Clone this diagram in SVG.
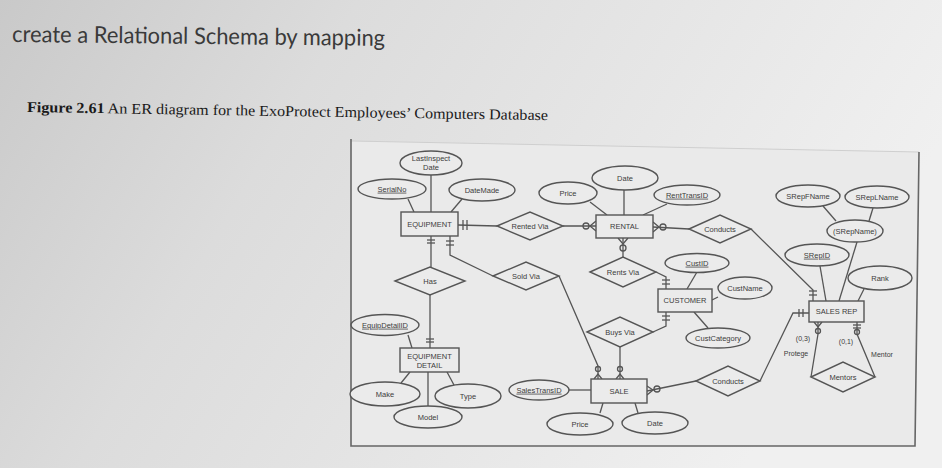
<svg xmlns="http://www.w3.org/2000/svg" width="942" height="468" viewBox="0 0 942 468">
<defs>
<linearGradient id="bg" x1="0" y1="0" x2="1" y2="0.3">
<stop offset="0" stop-color="#c9c9c9"/>
<stop offset="0.35" stop-color="#dcdcdc"/>
<stop offset="1" stop-color="#f0f0f0"/>
</linearGradient>
<style>
.t{font-family:"Liberation Sans",Arial,sans-serif;font-size:7.5px;fill:#3c3c3c;text-anchor:middle}
.u{text-decoration:underline}
.s{fill:#ebebeb;stroke:#555;stroke-width:1.4}
.c{fill:none;stroke:#555;stroke-width:1.3}
.lbl{font-family:"Liberation Sans",Arial,sans-serif;font-size:7px;fill:#3c3c3c;text-anchor:middle}
</style>
</defs>
<rect x="0" y="0" width="942" height="468" fill="url(#bg)"/>
<text x="12" y="42" font-family="Lato,'Open Sans',sans-serif" font-size="23" fill="#3a3a3a" textLength="373" lengthAdjust="spacingAndGlyphs" transform="rotate(0.6 12 42)">create a Relational Schema by mapping</text>
<text x="27" y="112" font-family="'Liberation Serif','Times New Roman',serif" font-size="15" fill="#1a1a1a" textLength="521" lengthAdjust="spacingAndGlyphs" transform="rotate(0.9 27 112)"><tspan font-weight="bold">Figure 2.61</tspan> An ER diagram for the ExoProtect Employees’ Computers Database</text>
<g id="frame">
<polygon points="351,141 919,152 915,446 351,446" fill="#eaeaea" stroke="none"/>
<line x1="351" y1="141" x2="919" y2="152" stroke="#cfcfcf" stroke-width="1"/>
<polyline points="919,152 915,446 351,446 351,139" fill="none" stroke="#666" stroke-width="1.6"/>
</g>

<g id="connectors" class="c">
<line x1="408" y1="199" x2="414" y2="212"/>
<line x1="431" y1="175" x2="431" y2="212"/>
<line x1="462" y1="199" x2="451" y2="212"/>
<line x1="458" y1="225" x2="497" y2="226"/>
<line x1="463" y1="220" x2="463" y2="230"/><line x1="467" y1="220" x2="467" y2="230"/>
<line x1="563" y1="226" x2="596" y2="226"/>
<circle cx="586" cy="226" r="3"/>
<polyline points="596,221 590,226 596,231"/>
<line x1="653" y1="227" x2="689" y2="229"/>
<polyline points="653,222 659,227 653,232"/>
<circle cx="663" cy="227" r="3"/>
<polyline points="751,229 813,290 813,301"/>
<line x1="809" y1="291" x2="817" y2="291"/><line x1="809" y1="295" x2="817" y2="295"/>
<line x1="590" y1="202" x2="607" y2="215"/>
<line x1="624" y1="190" x2="624" y2="215"/>
<line x1="667" y1="204" x2="643" y2="215"/>
<line x1="623" y1="238" x2="623" y2="257"/>
<polyline points="618,238 623,244 628,238"/>
<circle cx="623" cy="248" r="3"/>
<polyline points="656,272 666,277 666,289"/>
<line x1="662" y1="280" x2="670" y2="280"/><line x1="662" y1="284" x2="670" y2="284"/>
<polyline points="666,312 666,326 653,332"/>
<line x1="662" y1="316" x2="670" y2="316"/><line x1="662" y1="320" x2="670" y2="320"/>
<line x1="697" y1="272" x2="687" y2="289"/>
<line x1="718" y1="297" x2="712" y2="300"/>
<line x1="694" y1="312" x2="708" y2="328"/>
<line x1="431" y1="236" x2="431" y2="267"/>
<line x1="427" y1="240" x2="435" y2="240"/><line x1="427" y1="243" x2="435" y2="243"/>
<polyline points="450,236 450,255 493,276"/>
<line x1="446" y1="241" x2="454" y2="241"/><line x1="446" y1="245" x2="454" y2="245"/>
<line x1="430" y1="295" x2="430" y2="348"/>
<line x1="426" y1="339" x2="434" y2="339"/><line x1="426" y1="342" x2="434" y2="342"/>
<line x1="408" y1="335" x2="412" y2="348"/>
<line x1="410" y1="372" x2="401" y2="383"/>
<line x1="428" y1="372" x2="428" y2="406"/>
<line x1="447" y1="372" x2="454" y2="385"/>
<polyline points="559,276 598,366 598,379"/>
<circle cx="598" cy="369" r="2.5"/>
<polyline points="594,379 598,374 602,379"/>
<line x1="620" y1="347" x2="620" y2="379"/>
<circle cx="620" cy="369" r="2.5"/>
<polyline points="616,379 620,374 624,379"/>
<line x1="569" y1="390" x2="591" y2="390"/>
<line x1="647" y1="391" x2="696" y2="381"/>
<polyline points="647,386 653,390 647,395"/>
<circle cx="657" cy="389" r="3"/>
<polyline points="760,381 793,313 809,313"/>
<line x1="799" y1="309" x2="799" y2="317"/><line x1="803" y1="309" x2="803" y2="317"/>
<line x1="603" y1="403" x2="600" y2="413"/>
<line x1="635" y1="403" x2="638" y2="413"/>
<line x1="823" y1="206" x2="836" y2="221"/>
<line x1="873" y1="208" x2="869" y2="221"/>
<line x1="857" y1="242" x2="839" y2="301"/>
<line x1="820" y1="266" x2="826" y2="301"/>
<line x1="864" y1="289" x2="858" y2="301"/>
<polyline points="818,322 818,334 811,377"/>
<polyline points="814,322 818,327 822,322"/>
<circle cx="818" cy="331" r="2.5"/>
<polyline points="857,322 857,334 875,377"/>
<line x1="853" y1="325" x2="861" y2="325"/><line x1="853" y1="328" x2="861" y2="328"/>
<circle cx="857" cy="332" r="2.5"/>
</g>

<g id="EQUIPMENT"><rect class="s" x="401" y="212" width="57" height="24"/><text class="t" x="429.5" y="226.8">EQUIPMENT</text></g>
<g id="RENTAL"><rect class="s" x="596" y="215" width="57" height="23"/><text class="t" x="624.5" y="229.3">RENTAL</text></g>
<g id="CUSTOMER"><rect class="s" x="658" y="289" width="54" height="23"/><text class="t" x="685" y="303.3">CUSTOMER</text></g>
<g id="EQUIPMENT_DETAIL"><rect class="s" x="400" y="348" width="59" height="24"/><text class="t" x="429.5" y="358.7">EQUIPMENT</text><text class="t" x="429.5" y="367.5">DETAIL</text></g>
<g id="SALE"><rect class="s" x="591" y="379" width="56" height="24"/><text class="t" x="619" y="393.8">SALE</text></g>
<g id="SALES_REP"><rect class="s" x="809" y="301" width="55" height="21"/><text class="t" x="836.5" y="314.3">SALES REP</text></g>

<g id="LastInspectDate"><ellipse class="s" cx="431" cy="163" rx="31" ry="12"/><text class="t" x="431" y="161">LastInspect</text><text class="t" x="431" y="169.5">Date</text></g>
<g id="SerialNo"><ellipse class="s" cx="392" cy="189" rx="34" ry="10"/><text class="t u" x="392" y="191.7">SerialNo</text></g>
<g id="DateMade"><ellipse class="s" cx="482" cy="190" rx="33" ry="11"/><text class="t" x="482" y="192.7">DateMade</text></g>
<g id="RentalPrice"><ellipse class="s" cx="568" cy="193" rx="29" ry="11"/><text class="t" x="568" y="195.7">Price</text></g>
<g id="RentalDate"><ellipse class="s" cx="625" cy="178" rx="33" ry="12"/><text class="t" x="625" y="180.7">Date</text></g>
<g id="RentTransID"><ellipse class="s" cx="687" cy="195" rx="33" ry="10"/><text class="t u" x="687" y="197.7">RentTransID</text></g>
<g id="CustID"><ellipse class="s" cx="697" cy="263" rx="32" ry="9.5"/><text class="t u" x="697" y="265.7">CustID</text></g>
<g id="CustName"><ellipse class="s" cx="745" cy="288" rx="27" ry="11"/><text class="t" x="745" y="290.7">CustName</text></g>
<g id="CustCategory"><ellipse class="s" cx="718" cy="338" rx="32" ry="10"/><text class="t" x="718" y="340.7">CustCategory</text></g>
<g id="EquipDetailID"><ellipse class="s" cx="385" cy="325" rx="34" ry="10.5"/><text class="t u" x="385" y="327.7">EquipDetailID</text></g>
<g id="Make"><ellipse class="s" cx="385" cy="394" rx="35" ry="12"/><text class="t" x="385" y="396.7">Make</text></g>
<g id="Model"><ellipse class="s" cx="428" cy="417" rx="34" ry="11"/><text class="t" x="428" y="419.7">Model</text></g>
<g id="Type"><ellipse class="s" cx="468" cy="396" rx="33" ry="12"/><text class="t" x="468" y="398.7">Type</text></g>
<g id="SalesTransID"><ellipse class="s" cx="539" cy="390" rx="30" ry="10"/><text class="t u" x="539" y="392.7">SalesTransID</text></g>
<g id="SalePrice"><ellipse class="s" cx="580" cy="424" rx="33" ry="11"/><text class="t" x="580" y="426.7">Price</text></g>
<g id="SaleDate"><ellipse class="s" cx="655" cy="423" rx="33" ry="11"/><text class="t" x="655" y="425.7">Date</text></g>
<g id="SRepFName"><ellipse class="s" cx="808" cy="196" rx="32" ry="11"/><text class="t" x="808" y="198.7">SRepFName</text></g>
<g id="SRepLName"><ellipse class="s" cx="877" cy="197" rx="32" ry="11"/><text class="t" x="877" y="199.7">SRepLName</text></g>
<g id="SRepName"><ellipse class="s" cx="855" cy="231" rx="28" ry="11"/><text class="t" x="855" y="233.7">(SRepName)</text></g>
<g id="SRepID"><ellipse class="s" cx="817" cy="255" rx="32" ry="11"/><text class="t u" x="817" y="257.7">SRepID</text></g>
<g id="Rank"><ellipse class="s" cx="880" cy="278" rx="32" ry="12"/><text class="t" x="880" y="280.7">Rank</text></g>

<g id="RentedVia"><polygon class="s" points="497,226 530,212 563,226 530,240"/><text class="t" x="530" y="228.7">Rented Via</text></g>
<g id="Has"><polygon class="s" points="395,281 430,267 465,281 430,295"/><text class="t" x="430" y="283.7">Has</text></g>
<g id="SoldVia"><polygon class="s" points="493,276 526,262 559,276 526,290"/><text class="t" x="526" y="278.7">Sold Via</text></g>
<g id="RentsVia"><polygon class="s" points="590,272 623,257 656,272 623,287"/><text class="t" x="623" y="274.7">Rents Via</text></g>
<g id="BuysVia"><polygon class="s" points="587,332 620,317 653,332 620,347"/><text class="t" x="620" y="334.7">Buys Via</text></g>
<g id="ConductsRental"><polygon class="s" points="689,229 720,215 751,229 720,243"/><text class="t" x="720" y="231.7">Conducts</text></g>
<g id="ConductsSale"><polygon class="s" points="696,381 728,366 760,381 728,396"/><text class="t" x="728" y="383.7">Conducts</text></g>
<g id="Mentors"><polygon class="s" points="811,377 843,362 875,377 843,392"/><text class="t" x="843" y="379.7">Mentors</text></g>

<g id="labels">
<text class="lbl" x="803" y="341">(0,3)</text>
<text class="lbl" x="796" y="356">Protege</text>
<text class="lbl" x="846" y="344">(0,1)</text>
<text class="lbl" x="882" y="357">Mentor</text>
</g>
</svg>
